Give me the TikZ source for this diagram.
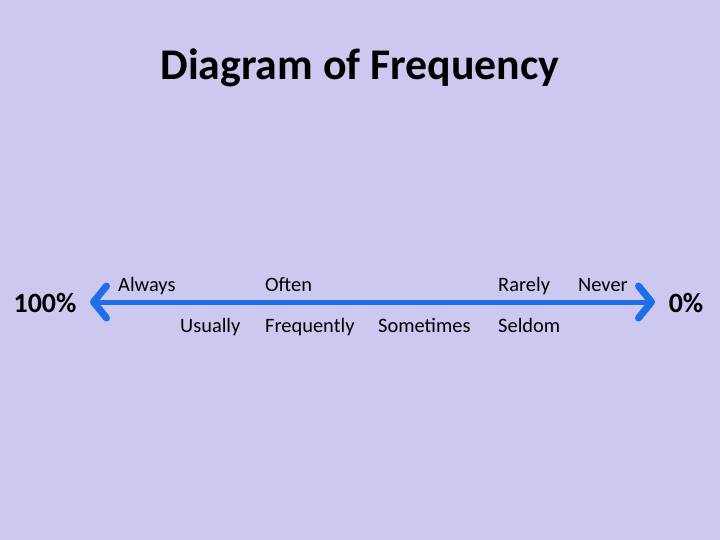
\documentclass[tikz,border=0pt]{standalone}
\usepackage{fontspec}
\setmainfont{Carlito}
\usetikzlibrary{arrows.meta}
\definecolor{slidebg}{RGB}{204,200,240}
\definecolor{scaleblue}{RGB}{30,110,232}

\begin{document}
\begin{tikzpicture}[x=1bp, y=-1bp,
    word/.style={font=\fontsize{20.5}{24}\selectfont, inner sep=0pt, anchor=base west},
    pct/.style={font=\fontsize{28}{32}\selectfont\bfseries, inner sep=0pt, anchor=base},
    >={Straight Barb[length=13bp, width=32bp, round, line width=7bp]}]
    \fill[slidebg] (0,0) rectangle (720,540);
    \useasboundingbox (0,0) rectangle (720,540);
    \node[font=\fontsize{44}{48}\selectfont\bfseries, inner sep=0pt, anchor=base] (title) at (360, 80) {Diagram of Frequency};
    \node[pct] (full) at (45, 312) {100\%};
    \node[pct] (none) at (686, 312) {0\%};
    \coordinate (left) at (90, 302);
    \coordinate (right) at (655, 302);
    \draw[<->, scaleblue, line width=5bp] (left) -- (right);
    % above the line
    \node[word] (always) at (118, 291) {Always};
    \node[word] (often) at (265, 291) {Often};
    \node[word] (rarely) at (498, 291) {Rarely};
    \node[word] (never) at (578, 291) {Never};
    % below the line
    \node[word] (usually) at (180, 332) {Usually};
    \node[word] (frequently) at (265, 332) {Frequently};
    \node[word] (sometimes) at (378, 332) {Sometimes};
    \node[word] (seldom) at (498, 332) {Seldom};
\end{tikzpicture}
\end{document}
